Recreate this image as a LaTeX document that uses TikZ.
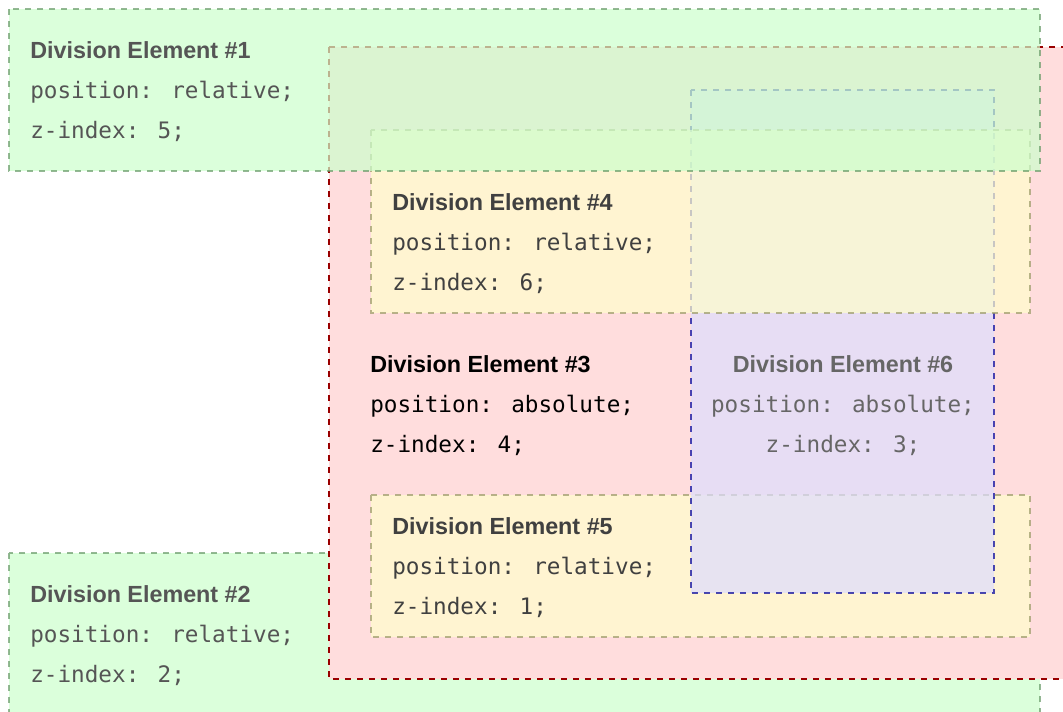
\documentclass[tikz,border=0pt]{standalone}
\usepackage{fontspec}
\setmainfont{Liberation Sans}
\newfontfamily\codefont{DejaVu Sans Mono}
\usetikzlibrary{positioning}
\definecolor{greenfill}{HTML}{CCFFCC}
\definecolor{greenline}{HTML}{669966}
\definecolor{redfill}{HTML}{FFDDDD}
\definecolor{redline}{HTML}{990000}
\definecolor{yellowfill}{HTML}{FFFFCC}
\definecolor{yellowline}{HTML}{999966}
\definecolor{bluefill}{HTML}{DDDDFF}
\definecolor{blueline}{HTML}{000099}
\definecolor{softtext}{HTML}{555555}
\tikzstyle{division} = [line width=1.2pt, dash pattern=on 4.5pt off 4.5pt, opacity=0.7]
\tikzstyle{greendiv} = [division, fill=greenfill, draw=greenline]
\tikzstyle{reddiv} = [division, fill=redfill, draw=redline, opacity=1]
\tikzstyle{yellowdiv} = [division, fill=yellowfill, draw=yellowline]
\tikzstyle{bluediv} = [division, fill=bluefill, draw=blueline]
\tikzstyle{title} = [anchor=base west, inner sep=0pt, text=softtext, font=\bfseries\fontsize{17.5}{20}\selectfont]
\tikzstyle{code} = [anchor=base west, inner sep=0pt, text=softtext, font=\codefont\fontsize{17}{22}\selectfont]

\begin{document}
\begin{tikzpicture}[x=0.75pt, y=-0.75pt]
  \useasboundingbox (0,0) rectangle (1063,711);
  \clip (0,0) rectangle (1063,711);
  % Draw boxes, lowest first
  \path [greendiv] (9,553) rectangle (1040,730);
  \path [reddiv] (329,47) rectangle (1080,679);
  \path [yellowdiv] (371,495) rectangle (1030,637);
  \path [bluediv] (691,90) rectangle (994,593);
  \path [yellowdiv] (371,130) rectangle (1030,313);
  \path [greendiv] (9,9) rectangle (1040,171);
  % Place nodes
  \node [title] (title1) at (30,58) {Division Element \#1};
  \node [code] (pos1) at (30,98) {position: relative;};
  \node [code] (z1) at (30,138) {z-index: 5;};
  \node [title] (title2) at (30,602) {Division Element \#2};
  \node [code] (pos2) at (30,642) {position: relative;};
  \node [code] (z2) at (30,682) {z-index: 2;};
  \node [title, text=black] (title3) at (370,372) {Division Element \#3};
  \node [code, text=black] (pos3) at (370,412) {position: absolute;};
  \node [code, text=black] (z3) at (370,452) {z-index: 4;};
  \node [title, text=black!75] (title4) at (392,210) {Division Element \#4};
  \node [code, text=black!75] (pos4) at (392,250) {position: relative;};
  \node [code, text=black!75] (z4) at (392,290) {z-index: 6;};
  \node [title, text=black!75] (title5) at (392,534) {Division Element \#5};
  \node [code, text=black!75] (pos5) at (392,574) {position: relative;};
  \node [code, text=black!75] (z5) at (392,614) {z-index: 1;};
  \node [title, anchor=base, text=black!60] (title6) at (843,372) {Division Element \#6};
  \node [code, anchor=base, text=black!60] (pos6) at (843,412) {position: absolute;};
  \node [code, anchor=base, text=black!60] (z6) at (843,452) {z-index: 3;};
\end{tikzpicture}
\end{document}
